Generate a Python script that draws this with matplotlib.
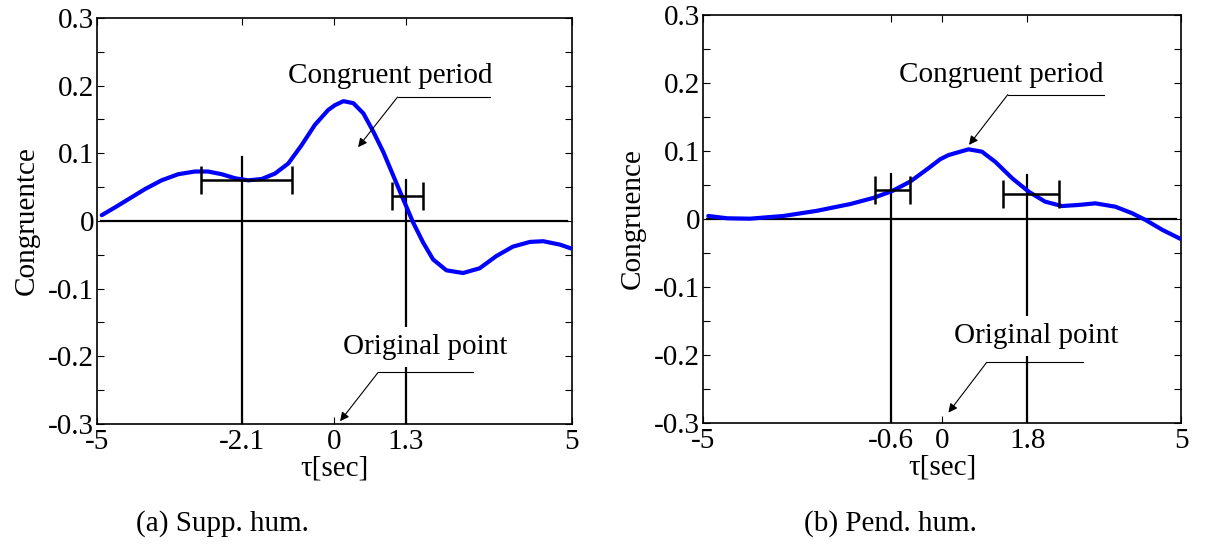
import matplotlib
matplotlib.use('Agg')
import matplotlib.pyplot as plt
import numpy as np

plt.rcParams['font.family'] = ['Liberation Serif', 'DejaVu Serif']

# (a) Supp. hum. -- congruence curve
tau_a = [-4.90, -4.62, -4.34, -3.99, -3.64, -3.29, -2.94, -2.66, -2.37, -2.09, -1.81, -1.53,
         -1.25, -0.97, -0.69, -0.41, -0.13, 0.01, 0.19, 0.40, 0.61, 0.82, 1.03, 1.24, 1.45,
         1.66, 1.87, 2.08, 2.36, 2.71, 3.06, 3.41, 3.76, 4.12, 4.40, 4.75, 5.0]
cong_a = [0.0085, 0.020, 0.032, 0.047, 0.060, 0.069, 0.073, 0.073, 0.069, 0.063, 0.060, 0.062,
          0.070, 0.085, 0.112, 0.142, 0.164, 0.171, 0.177, 0.174, 0.159, 0.132, 0.102, 0.067,
          0.032, -0.0025, -0.032, -0.057, -0.073, -0.077, -0.070, -0.052, -0.038, -0.031,
          -0.030, -0.035, -0.041]

# (b) Pend. hum.
tau_b = [-4.89, -4.50, -4.02, -3.32, -2.62, -1.92, -1.44, -1.05, -0.67, -0.32, -0.04, 0.13,
         0.55, 0.83, 1.11, 1.46, 1.81, 2.15, 2.50, 2.85, 3.20, 3.62, 3.97, 4.25, 4.60, 5.0]
cong_b = [0.0044, 0.001, 0.0004, 0.0044, 0.012, 0.022, 0.031, 0.041, 0.055, 0.073, 0.088, 0.094,
          0.1025, 0.099, 0.084, 0.060, 0.040, 0.0255, 0.019, 0.0206, 0.023, 0.018, 0.0084,
          -0.0015, -0.016, -0.030]

# x ticks as placed in the picture, with their printed labels
xtick_pos_a = [-5, -1.95, 0, 1.50, 5]
xtick_lab_a = ['-5', '-2.1', '0', '1.3', '5']
xtick_pos_b = [-5, -1.07, 0, 1.78, 5]
xtick_lab_b = ['-5', '-0.6', '0', '1.8', '5']

# lag markers: (x, top of line, errorbar y, errorbar left, errorbar right)
marks_a = [(-1.95, 0.0946, 0.061, -2.81, -0.90), (1.50, 0.061, 0.037, 1.22, 1.87)]
marks_b = [(-1.07, 0.066, 0.042, -1.40, -0.67), (1.78, 0.064, 0.037, 1.28, 2.45)]

ylabels = ['Congruentce', 'Congruence']
subtitles = ['(a) Supp. hum.', '(b) Pend. hum.']

yt = [-0.3, -0.25, -0.2, -0.15, -0.1, -0.05, 0, 0.05, 0.1, 0.15, 0.2, 0.25, 0.3]
ytl = ['-0.3', '', '-0.2', '', '-0.1', '', '0', '', '0.1', '', '0.2', '', '0.3']

FS = 21

fig = plt.figure(figsize=(12.08, 5.6), dpi=100)
ax_a = fig.add_axes([0.0803, 0.243, 0.393, 0.725])
ax_b = fig.add_axes([0.582, 0.245, 0.396, 0.728])

def drawPanel(ax, tau, cong, tpos, tlab, marks, ylab, cp_text, cp_line, cp_tip, op_text, op_line, op_tip):
    ax.plot(tau, cong, color='#0000ff', lw=3.0, zorder=3, solid_capstyle='round', solid_joinstyle='round')
    ax.plot([-4.92, 4.89], [0, 0], color='black', lw=1.6, zorder=2)
    for (x, top, ey, el, er) in marks:
        ax.plot([x, x], [-0.3, top], color='black', lw=1.6, zorder=2)
        ax.errorbar([(el + er) / 2], [ey], xerr=[(er - el) / 2], fmt='none', ecolor='black',
                    elinewidth=1.8, capsize=10, capthick=1.8, zorder=4)

    # annotations with leader lines
    ax.text(cp_text[0], cp_text[1], 'Congruent period', fontsize=FS, ha='center', va='center', zorder=5)
    ax.plot(cp_line[0], [cp_line[1], cp_line[1]], color='black', lw=0.8, zorder=5)
    ax.annotate('', xy=cp_tip, xytext=(cp_line[0][1], cp_line[1]),
                arrowprops=dict(arrowstyle='-|>', color='black', lw=0.8, mutation_scale=13,
                                shrinkA=0, shrinkB=0), zorder=5)
    ax.text(op_text[0], op_text[1], 'Original point', fontsize=FS, ha='center', va='center', zorder=5,
            bbox=dict(facecolor='white', edgecolor='none', pad=5))
    ax.plot(op_line[0], [op_line[1], op_line[1]], color='black', lw=0.8, zorder=6)
    ax.annotate('', xy=op_tip, xytext=(op_line[0][1], op_line[1]),
                arrowprops=dict(arrowstyle='-|>', color='black', lw=0.8, mutation_scale=13,
                                shrinkA=0, shrinkB=0), zorder=6)

    ax.set_xlim(-5, 5)
    ax.set_ylim(-0.3, 0.3)
    ax.set_xticks(tpos)
    ax.set_xticklabels(tlab, fontsize=FS)
    ax.set_yticks(yt)
    ax.set_yticklabels(ytl, fontsize=FS)
    ax.tick_params(direction='in', top=True, right=True, length=5, width=0.8)
    ax.tick_params(axis='x', pad=4)
    ax.tick_params(axis='y', pad=2)
    for s in ax.spines.values():
        s.set_linewidth(1.2)
    ax.set_xlabel('τ[sec]', fontsize=FS, labelpad=0)
    ax.set_ylabel(ylab, fontsize=FS, labelpad=6)

drawPanel(ax_a, tau_a, cong_a, xtick_pos_a, xtick_lab_a, marks_a, ylabels[0],
          (1.17, 0.214), ([3.28, 1.33], 0.183), (0.50, 0.109),
          (1.92, -0.186), ([2.92, 0.92], -0.224), (0.12, -0.296))
drawPanel(ax_b, tau_b, cong_b, xtick_pos_b, xtick_lab_b, marks_b, ylabels[1],
          (1.23, 0.212), ([3.38, 1.37], 0.183), (0.56, 0.109),
          (1.96, -0.172), ([2.95, 0.93], -0.211), (0.13, -0.285))

fig.text(0.184, 0.066, subtitles[0], fontsize=FS, ha='center', va='center')
fig.text(0.737, 0.066, subtitles[1], fontsize=FS, ha='center', va='center')

fig.savefig('out.png', dpi=100)
